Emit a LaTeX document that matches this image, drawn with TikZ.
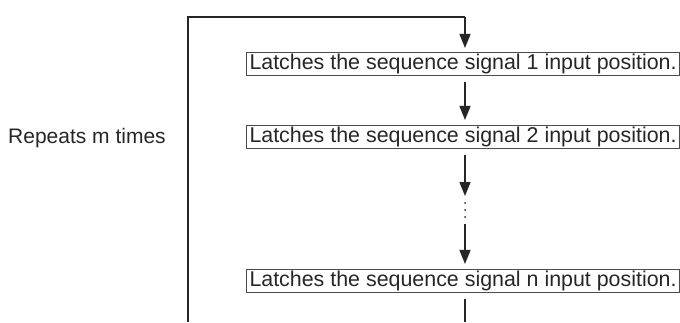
\documentclass[tikz,border=0pt]{standalone}
\usepackage{fontspec}
\setmainfont{Liberation Sans}
\usetikzlibrary{arrows.meta}
\begin{document}
\begin{tikzpicture}[x=1pt,y=-1pt,
  latchbox/.style={draw=black!70,line width=1pt,anchor=west,inner xsep=3pt,inner ysep=1.5pt,
    text height=15.5pt,text depth=4.6pt,font=\fontsize{21.4}{24}\selectfont,text=black!85},
  flow/.style={line width=1.5pt,draw=black!85,-{Triangle[length=14pt,width=11pt]}},
  loopline/.style={line width=1.7pt,draw=black!85},
  lbl/.style={font=\fontsize{21}{24}\selectfont,text=black!85}
]
\useasboundingbox (0,0) rectangle (680,322);
\node[latchbox] (b1) at (246,64) {Latches the sequence signal 1 input position.};
\node[latchbox] (b2) at (246,137) {Latches the sequence signal 2 input position.};
\node[latchbox] (bn) at (246,281) {Latches the sequence signal n input position.};
\node[lbl] (rep) at (87,138) {Repeats m times};
\coordinate (tl) at (188,17);
\coordinate (bl) at (188,322);
\coordinate (tr) at (465,17);
\coordinate (br) at (465,322);
\coordinate (d1) at (465,196);
\coordinate (d2) at (465,224);
\draw[loopline] (bl) -- (tl) -- (tr);
\draw[flow,shorten >=4pt] (tr) -- (tr |- b1.north);
\draw[flow,shorten <=6pt,shorten >=5pt] (tr |- b1.south) -- (tr |- b2.north);
\draw[flow,shorten <=6pt] (tr |- b2.south) -- (d1);
\foreach \yy in {203,210,217} \fill[black!85] (465,\yy) circle (1pt);
\draw[flow,shorten >=5pt] (d2) -- (tr |- bn.north);
\draw[loopline,line width=1.5pt,shorten <=6pt] (tr |- bn.south) -- (br);
\end{tikzpicture}
\end{document}
